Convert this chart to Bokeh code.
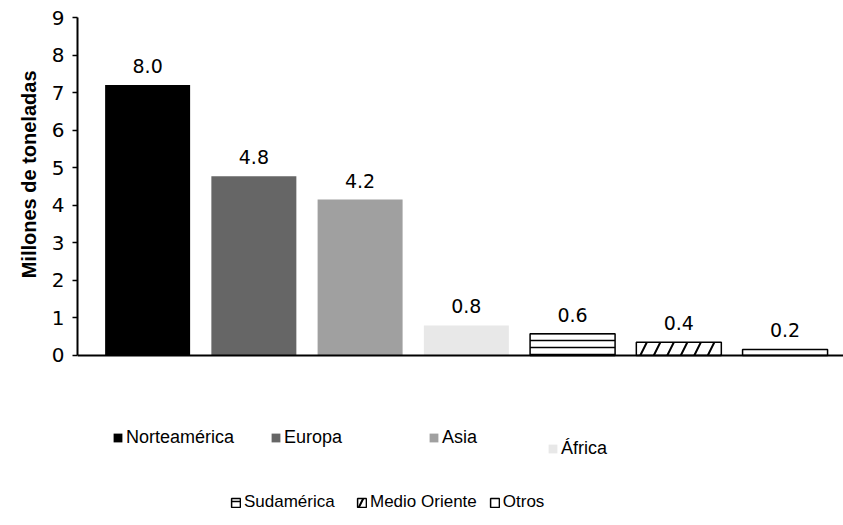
from bokeh.plotting import figure
from bokeh.models import ColumnDataSource, Range1d, LabelSet, Legend, LegendItem, FixedTicker, Span, Title
from bokeh.core.properties import value
from bokeh.embed import file_html
from bokeh.resources import INLINE

regions = ["Norteamérica", "Europa", "Asia", "África", "Sudamérica", "Medio Oriente", "Otros"]
values = [7.2, 4.77, 4.15, 0.8, 0.58, 0.35, 0.16]
labels = ["8.0", "4.8", "4.2", "0.8", "0.6", "0.4", "0.2"]
fills = ["#000000", "#666666", "#a0a0a0", "#e8e8e8", "#ffffff", "#ffffff", "#ffffff"]
outlines = [None, None, None, None, "#000000", "#000000", "#000000"]
hatches = [" ", " ", " ", " ", "horizontal_line", "right_diagonal_line", " "]
y_ticks = [0, 1, 2, 3, 4, 5, 6, 7, 8, 9]
y_title = "Millones de toneladas"

FONT = "DejaVu Sans"

p = figure(width=843, height=525, output_backend="svg", toolbar_location=None,
           x_range=Range1d(-0.66, 6.55), y_range=Range1d(-4.53, 9),
           min_border_left=77, min_border_right=0, min_border_top=17, min_border_bottom=0)
p.outline_line_color = None
p.grid.visible = False
p.background_fill_color = "white"
p.border_fill_color = "white"
p.xaxis.visible = False

renderers = []
for i, r in enumerate(regions):
    src = ColumnDataSource(dict(x=[i], top=[values[i]]))
    kw = dict(x="x", top="top", bottom=0, width=0.8, source=src, fill_color=fills[i])
    if outlines[i] is None:
        kw.update(line_color=None)
    else:
        kw.update(line_color=outlines[i], line_width=1.5)
    if hatches[i].strip():
        if hatches[i] == "horizontal_line":
            kw.update(hatch_pattern=hatches[i], hatch_color="black", hatch_scale=7, hatch_weight=1.5)
        else:
            kw.update(hatch_pattern=hatches[i], hatch_color="black", hatch_scale=27, hatch_weight=2)
    renderers.append(p.vbar(**kw))

# baseline (x axis line)
p.add_layout(Span(location=0, dimension="width", line_color="black", line_width=2))

lab_src = ColumnDataSource(dict(x=list(range(len(regions))), y=values, t=labels))
p.add_layout(LabelSet(x="x", y="y", text="t", source=lab_src, text_align="center",
                      text_baseline="bottom", y_offset=12, text_font=value(FONT),
                      text_font_size=value("19px"), text_color="black"))

# y axis
p.yaxis.bounds = (0, 9)
p.yaxis.ticker = FixedTicker(ticks=y_ticks)
p.yaxis.axis_line_width = 2
p.yaxis.axis_line_color = "black"
p.yaxis.major_tick_out = 5
p.yaxis.major_tick_in = 0
p.yaxis.major_tick_line_width = 1.5
p.yaxis.minor_tick_line_color = None
p.yaxis.major_label_text_font = FONT
p.yaxis.major_label_text_font_size = "20px"
p.yaxis.major_label_text_color = "black"
p.yaxis.major_label_standoff = 8

p.add_layout(Title(text=y_title, align="right", offset=53, standoff=17,
                   text_font="Liberation Sans", text_font_style="bold",
                   text_font_size="20px", text_color="black"), "left")


def make_legend(idx, loc, label_width, spacing, size="18px"):
    items = [LegendItem(label=regions[i], renderers=[renderers[i]]) for i in idx]
    lg = Legend(items=items, location=loc, orientation="horizontal",
                label_text_font="Liberation Sans", label_text_font_size=size,
                label_text_color="black", glyph_width=11, glyph_height=11,
                label_standoff=3, label_width=label_width, spacing=spacing,
                padding=0, margin=0, border_line_color=None,
                background_fill_alpha=0, label_height=18)
    p.add_layout(lg, "center")
    return lg

make_legend([0, 1, 2], (35, 77), 110, 34)
make_legend([3], (470, 66), 60, 0)
make_legend([4, 5, 6], (153, 13), 100, 12, "17px")

html = file_html(p, INLINE)
open("out.html", "w").write(html)
